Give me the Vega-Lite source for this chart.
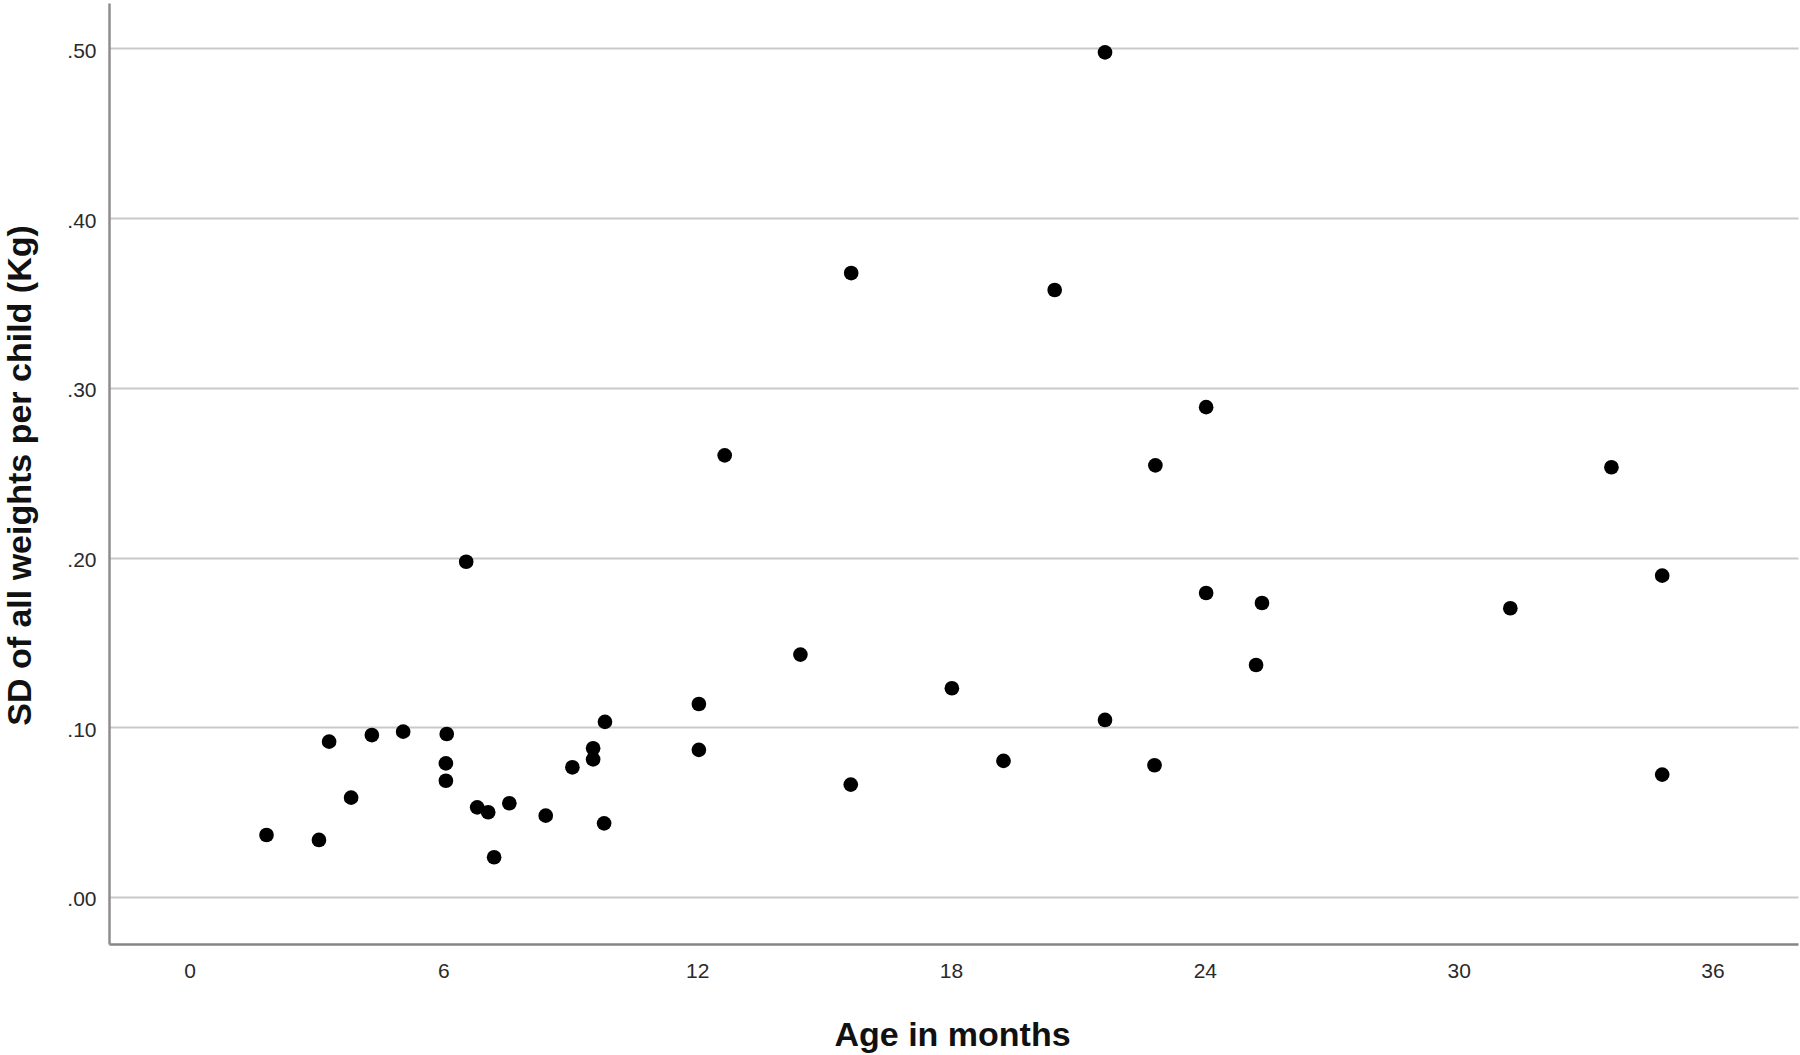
{
  "$schema": "https://vega.github.io/schema/vega-lite/v6.json",
  "autosize": {"type": "none"},
  "padding": {"left": 109, "top": 3, "right": 2, "bottom": 111},
  "width": 1689,
  "height": 941,
  "background": "white",
  "config": {
    "view": {"stroke": null},
    "font": "Liberation Sans"
  },
  "data": {
    "values": [
      {"age": 21.64, "sd": 0.4976},
      {"age": 15.64, "sd": 0.3676},
      {"age": 20.45, "sd": 0.3576},
      {"age": 24.03, "sd": 0.2886},
      {"age": 12.65, "sd": 0.2602},
      {"age": 22.83, "sd": 0.2543},
      {"age": 33.61, "sd": 0.2532},
      {"age": 6.54, "sd": 0.1975},
      {"age": 34.81, "sd": 0.1893},
      {"age": 24.03, "sd": 0.1791},
      {"age": 25.35, "sd": 0.1732},
      {"age": 31.22, "sd": 0.1701},
      {"age": 14.44, "sd": 0.1428},
      {"age": 25.21, "sd": 0.1367},
      {"age": 18.02, "sd": 0.123},
      {"age": 12.04, "sd": 0.1137},
      {"age": 21.64, "sd": 0.1043},
      {"age": 9.82, "sd": 0.1032},
      {"age": 5.05, "sd": 0.0974},
      {"age": 4.31, "sd": 0.0954},
      {"age": 6.08, "sd": 0.096},
      {"age": 3.3, "sd": 0.0915},
      {"age": 9.54, "sd": 0.0876},
      {"age": 12.04, "sd": 0.0867},
      {"age": 9.54, "sd": 0.0811},
      {"age": 19.24, "sd": 0.0802},
      {"age": 6.06, "sd": 0.0787},
      {"age": 22.81, "sd": 0.0776},
      {"age": 9.05, "sd": 0.0764},
      {"age": 34.81, "sd": 0.0721},
      {"age": 6.06, "sd": 0.0685},
      {"age": 15.63, "sd": 0.0662},
      {"age": 3.82, "sd": 0.0585},
      {"age": 7.56, "sd": 0.0552},
      {"age": 6.8, "sd": 0.0528},
      {"age": 7.06, "sd": 0.0499},
      {"age": 8.42, "sd": 0.0479},
      {"age": 9.8, "sd": 0.0434},
      {"age": 1.82, "sd": 0.0365},
      {"age": 3.06, "sd": 0.0336},
      {"age": 7.2, "sd": 0.0234}
    ]
  },
  "mark": {"type": "point", "shape": "circle", "filled": true, "color": "black", "opacity": 1, "size": 215},
  "encoding": {
    "x": {
      "field": "age",
      "type": "quantitative",
      "scale": {"domain": [-1.903, 38.02], "nice": false, "zero": false},
      "axis": {
        "title": "Age in months",
        "values": [0, 6, 12, 18, 24, 30, 36],
        "grid": false,
        "ticks": false,
        "tickSize": 0,
        "labelPadding": 16,
        "labelFontSize": 21,
        "labelColor": "#2a2a2a",
        "labelFont": "Liberation Sans",
        "domainColor": "#858585",
        "domainWidth": 2.7,
        "titleFont": "Liberation Sans",
        "titleFontSize": 34,
        "titleFontWeight": "bold",
        "titleColor": "#111111",
        "titleX": 843,
        "titleY": 101,
        "titleBaseline": "alphabetic",
        "titleAlign": "center"
      }
    },
    "y": {
      "field": "sd",
      "type": "quantitative",
      "scale": {"domain": [-0.0277, 0.5267], "nice": false, "zero": false},
      "axis": {
        "title": "SD of all weights per child (Kg)",
        "values": [0, 0.1, 0.2, 0.3, 0.4, 0.5],
        "labelExpr": "replace(format(datum.value, '.2f'), '0.', '.')",
        "grid": true,
        "gridColor": "#c9c9c9",
        "gridWidth": 2,
        "ticks": false,
        "tickSize": 0,
        "labelPadding": 13,
        "labelOffset": 3,
        "labelFontSize": 21,
        "labelColor": "#2a2a2a",
        "labelFont": "Liberation Sans",
        "domainColor": "#8e8e8e",
        "domainWidth": 2.5,
        "titleFont": "Liberation Sans",
        "titleFontSize": 34,
        "titleFontWeight": "bold",
        "titleColor": "#111111",
        "titleAngle": -90,
        "titleX": -79,
        "titleY": 472,
        "titleBaseline": "alphabetic",
        "titleAlign": "center"
      }
    }
  }
}
